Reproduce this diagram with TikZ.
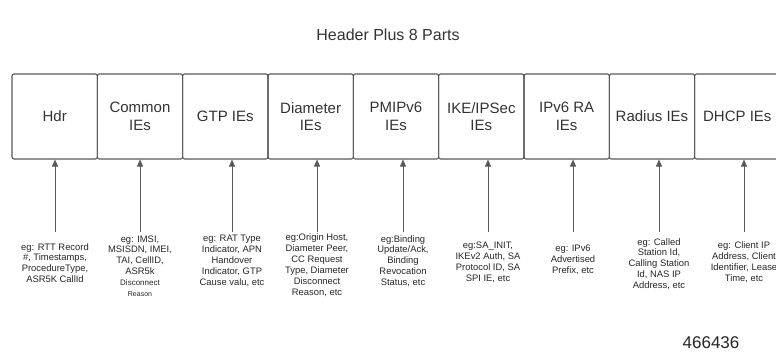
\documentclass[tikz,border=0pt]{standalone}
\usepackage{fontspec}
\setmainfont{Liberation Sans}
\usetikzlibrary{arrows.meta}
\begin{document}
\begin{tikzpicture}[x=1pt, y=-1pt,
    part/.style={draw=black!65, line width=1.1pt, rounded corners=2pt,
      minimum width=85.33pt, minimum height=85pt, align=center, inner sep=1pt,
      font=\fontsize{15}{17.5}\selectfont, text=black!80},
    note/.style={align=center, inner sep=0pt,
      font=\fontsize{9.4}{10.9}\selectfont, text=black!85},
    feed/.style={-{Triangle[length=7pt,width=6pt]}, draw=black!65, line width=0.9pt}]
  \useasboundingbox (0,0) rectangle (776,354);

  % title
  \node[font=\fontsize{16}{19}\selectfont, text=black!80] (title) at (388,35) {Header Plus 8 Parts};

  % the nine parts, side by side
  \foreach \i/\lbl in {1/Hdr, 2/{Common\\IEs}, 3/{GTP IEs}, 4/{Diameter\\IEs},
      5/{PMIPv6\\IEs}, 6/{IKE/IPSec\\IEs}, 7/{IPv6 RA\\IEs}, 8/{Radius IEs}, 9/{DHCP IEs}} {
    \node[part] (p\i) at ({12+85.33*(\i-1)+42.67}, 116.5) {\lbl};
  }

  % examples under each part
  \node[note] (n1) at (55,263) {eg: RTT Record\\\#, Timestamps,\\ProcedureType,\\ASR5K CallId};
  \node[note] (n2) at (140,266) {eg: IMSI,\\MSISDN, IMEI,\\TAI, CellID,\\ASR5k\\{\fontsize{8}{10}\selectfont Disconnect}\\{\fontsize{7}{10}\selectfont Reason}};
  \node[note] (n3) at (232,261) {eg: RAT Type\\Indicator, APN\\Handover\\Indicator, GTP\\Cause valu, etc};
  \node[note] (n4) at (317,265) {eg:Origin Host,\\Diameter Peer,\\CC Request\\Type, Diameter\\Disconnect\\Reason, etc};
  \node[note] (n5) at (403,261) {eg:Binding\\Update/Ack,\\Binding\\Revocation\\Status, etc};
  \node[note] (n6) at (488,262) {eg:SA\_INIT,\\IKEv2 Auth, SA\\Protocol ID, SA\\SPI IE, etc};
  \node[note] (n7) at (573,260) {eg: IPv6\\Advertised\\Prefix, etc};
  \node[note] (n8) at (659,264) {eg: Called\\Station Id,\\Calling Station\\Id, NAS IP\\Address, etc};
  \node[note] (n9) at (744,262) {eg: Client IP\\Address, Client\\Identifier, Lease\\Time, etc};

  % arrows up into the parts
  \foreach \i/\x in {1/55, 2/140, 3/232, 4/317, 5/403, 6/488, 7/573, 8/659, 9/744} {
    \coordinate (t\i) at (\x,232);
    \draw[feed] (t\i) -- (t\i |- p\i.south);
  }

  \node[font=\fontsize{17}{20}\selectfont, text=black!85] (tag) at (711,343) {466436};
\end{tikzpicture}
\end{document}
